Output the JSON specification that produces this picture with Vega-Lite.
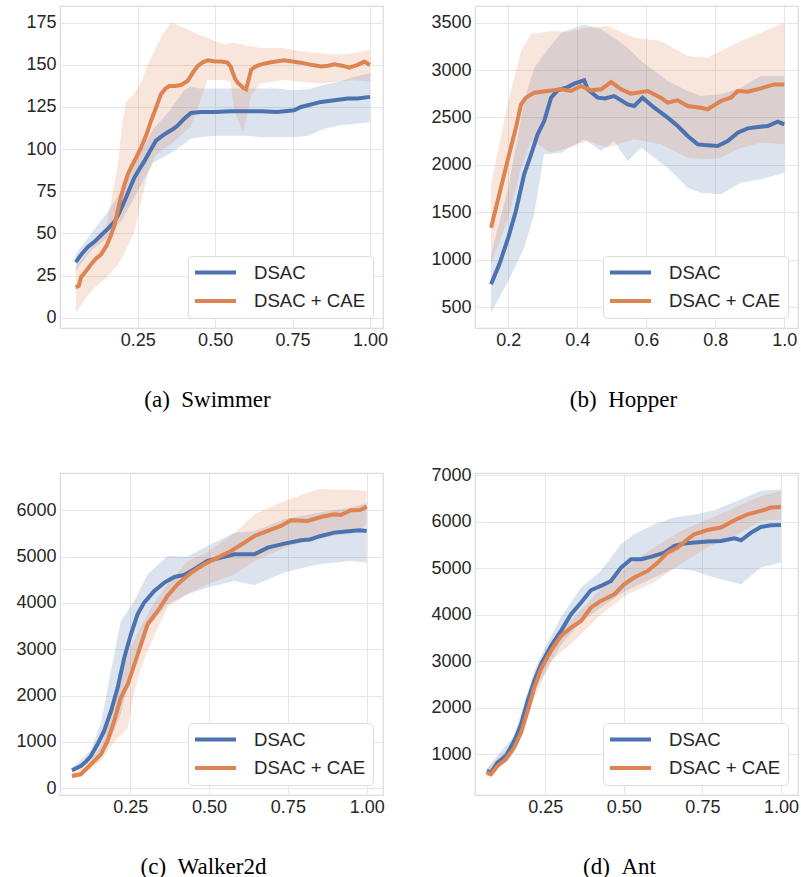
{
  "$schema": "https://vega.github.io/schema/vega-lite/v6.json",
  "padding": {"left": 15, "top": 5, "right": 2, "bottom": 2},
  "background": "white",
  "columns": 2,
  "bounds": "flush",
  "spacing": {"row": 145, "column": 92},
  "resolve": {"scale": {"color": "independent", "fill": "independent", "x": "independent", "y": "independent"}, "legend": {"color": "independent", "fill": "independent"}},
  "datasets": {
    "aL": [
      {"x":0.05,"s":"DSAC","y":33},{"x":0.07,"s":"DSAC","y":38},{"x":0.089,"s":"DSAC","y":42},{"x":0.11,"s":"DSAC","y":45},{"x":0.132,"s":"DSAC","y":49},{"x":0.155,"s":"DSAC","y":53},{"x":0.175,"s":"DSAC","y":57},{"x":0.19,"s":"DSAC","y":62},{"x":0.207,"s":"DSAC","y":69},{"x":0.225,"s":"DSAC","y":77},{"x":0.239,"s":"DSAC","y":83},{"x":0.255,"s":"DSAC","y":88},{"x":0.272,"s":"DSAC","y":93},{"x":0.29,"s":"DSAC","y":99},{"x":0.309,"s":"DSAC","y":105},{"x":0.33,"s":"DSAC","y":108},{"x":0.347,"s":"DSAC","y":110},{"x":0.365,"s":"DSAC","y":112},{"x":0.379,"s":"DSAC","y":114},{"x":0.4,"s":"DSAC","y":118},{"x":0.422,"s":"DSAC","y":121.5},{"x":0.454,"s":"DSAC","y":122},{"x":0.5,"s":"DSAC","y":122},{"x":0.55,"s":"DSAC","y":122.5},{"x":0.6,"s":"DSAC","y":122.5},{"x":0.65,"s":"DSAC","y":122.5},{"x":0.7,"s":"DSAC","y":122},{"x":0.755,"s":"DSAC","y":123},{"x":0.777,"s":"DSAC","y":125},{"x":0.8,"s":"DSAC","y":126},{"x":0.842,"s":"DSAC","y":128},{"x":0.885,"s":"DSAC","y":129},{"x":0.928,"s":"DSAC","y":130},{"x":0.96,"s":"DSAC","y":130},{"x":1.0,"s":"DSAC","y":131},
      {"x":0.05,"s":"DSAC + CAE","y":18},{"x":0.06,"s":"DSAC + CAE","y":19},{"x":0.067,"s":"DSAC + CAE","y":24},{"x":0.08,"s":"DSAC + CAE","y":27},{"x":0.099,"s":"DSAC + CAE","y":31.6},{"x":0.115,"s":"DSAC + CAE","y":35},{"x":0.132,"s":"DSAC + CAE","y":37.6},{"x":0.15,"s":"DSAC + CAE","y":43},{"x":0.164,"s":"DSAC + CAE","y":49},{"x":0.175,"s":"DSAC + CAE","y":55},{"x":0.185,"s":"DSAC + CAE","y":63},{"x":0.195,"s":"DSAC + CAE","y":71},{"x":0.207,"s":"DSAC + CAE","y":79},{"x":0.218,"s":"DSAC + CAE","y":85},{"x":0.228,"s":"DSAC + CAE","y":89},{"x":0.245,"s":"DSAC + CAE","y":95},{"x":0.261,"s":"DSAC + CAE","y":101},{"x":0.277,"s":"DSAC + CAE","y":108},{"x":0.293,"s":"DSAC + CAE","y":116.7},{"x":0.31,"s":"DSAC + CAE","y":125},{"x":0.325,"s":"DSAC + CAE","y":132.5},{"x":0.34,"s":"DSAC + CAE","y":136},{"x":0.352,"s":"DSAC + CAE","y":137.4},{"x":0.37,"s":"DSAC + CAE","y":137.5},{"x":0.39,"s":"DSAC + CAE","y":138},{"x":0.411,"s":"DSAC + CAE","y":140.4},{"x":0.43,"s":"DSAC + CAE","y":146},{"x":0.444,"s":"DSAC + CAE","y":149.3},{"x":0.46,"s":"DSAC + CAE","y":151.5},{"x":0.476,"s":"DSAC + CAE","y":152.7},{"x":0.5,"s":"DSAC + CAE","y":152},{"x":0.52,"s":"DSAC + CAE","y":152},{"x":0.54,"s":"DSAC + CAE","y":151.3},{"x":0.55,"s":"DSAC + CAE","y":149},{"x":0.557,"s":"DSAC + CAE","y":145.3},{"x":0.565,"s":"DSAC + CAE","y":141.5},{"x":0.573,"s":"DSAC + CAE","y":139.4},{"x":0.59,"s":"DSAC + CAE","y":136.5},{"x":0.6,"s":"DSAC + CAE","y":135.5},{"x":0.608,"s":"DSAC + CAE","y":141},{"x":0.616,"s":"DSAC + CAE","y":147},{"x":0.63,"s":"DSAC + CAE","y":149},{"x":0.648,"s":"DSAC + CAE","y":150.3},{"x":0.68,"s":"DSAC + CAE","y":151.5},{"x":0.723,"s":"DSAC + CAE","y":152.7},{"x":0.75,"s":"DSAC + CAE","y":152},{"x":0.777,"s":"DSAC + CAE","y":151.3},{"x":0.81,"s":"DSAC + CAE","y":150},{"x":0.842,"s":"DSAC + CAE","y":149},{"x":0.865,"s":"DSAC + CAE","y":149.5},{"x":0.885,"s":"DSAC + CAE","y":150.3},{"x":0.91,"s":"DSAC + CAE","y":149.5},{"x":0.933,"s":"DSAC + CAE","y":148.3},{"x":0.96,"s":"DSAC + CAE","y":150},{"x":0.982,"s":"DSAC + CAE","y":151.9},{"x":1.0,"s":"DSAC + CAE","y":149.9}
    ],
    "aB": [
      {"x":0.05,"s":"DSAC","lo":28,"hi":38},{"x":0.1,"s":"DSAC","lo":40,"hi":50},{"x":0.15,"s":"DSAC","lo":47,"hi":62},{"x":0.2,"s":"DSAC","lo":58,"hi":76},{"x":0.25,"s":"DSAC","lo":75,"hi":95},{"x":0.3,"s":"DSAC","lo":92,"hi":112},{"x":0.35,"s":"DSAC","lo":97,"hi":122},{"x":0.4,"s":"DSAC","lo":103,"hi":135},{"x":0.42,"s":"DSAC","lo":106,"hi":137},{"x":0.45,"s":"DSAC","lo":107,"hi":136},{"x":0.5,"s":"DSAC","lo":108,"hi":136},{"x":0.55,"s":"DSAC","lo":108,"hi":136},{"x":0.6,"s":"DSAC","lo":108,"hi":136},{"x":0.65,"s":"DSAC","lo":107,"hi":136},{"x":0.7,"s":"DSAC","lo":107,"hi":136},{"x":0.75,"s":"DSAC","lo":107,"hi":135},{"x":0.8,"s":"DSAC","lo":108,"hi":135.5},{"x":0.85,"s":"DSAC","lo":112,"hi":138},{"x":0.9,"s":"DSAC","lo":114,"hi":140},{"x":0.95,"s":"DSAC","lo":115,"hi":143},{"x":1.0,"s":"DSAC","lo":116,"hi":145},
      {"x":0.05,"s":"DSAC + CAE","lo":3,"hi":30},{"x":0.1,"s":"DSAC + CAE","lo":16,"hi":42},{"x":0.15,"s":"DSAC + CAE","lo":24,"hi":55},{"x":0.185,"s":"DSAC + CAE","lo":31,"hi":90},{"x":0.2,"s":"DSAC + CAE","lo":36,"hi":115},{"x":0.212,"s":"DSAC + CAE","lo":40,"hi":128},{"x":0.239,"s":"DSAC + CAE","lo":51,"hi":133},{"x":0.261,"s":"DSAC + CAE","lo":69,"hi":140},{"x":0.282,"s":"DSAC + CAE","lo":85,"hi":150},{"x":0.304,"s":"DSAC + CAE","lo":95,"hi":158},{"x":0.33,"s":"DSAC + CAE","lo":100,"hi":168},{"x":0.358,"s":"DSAC + CAE","lo":103,"hi":175},{"x":0.4,"s":"DSAC + CAE","lo":110,"hi":172},{"x":0.42,"s":"DSAC + CAE","lo":113,"hi":170},{"x":0.445,"s":"DSAC + CAE","lo":125,"hi":168},{"x":0.476,"s":"DSAC + CAE","lo":141,"hi":166},{"x":0.5,"s":"DSAC + CAE","lo":141,"hi":164},{"x":0.53,"s":"DSAC + CAE","lo":141,"hi":162},{"x":0.55,"s":"DSAC + CAE","lo":140,"hi":163},{"x":0.562,"s":"DSAC + CAE","lo":123,"hi":163},{"x":0.59,"s":"DSAC + CAE","lo":110,"hi":162},{"x":0.6,"s":"DSAC + CAE","lo":118,"hi":161},{"x":0.616,"s":"DSAC + CAE","lo":132,"hi":161},{"x":0.648,"s":"DSAC + CAE","lo":139,"hi":160},{"x":0.723,"s":"DSAC + CAE","lo":141,"hi":160},{"x":0.777,"s":"DSAC + CAE","lo":140,"hi":158},{"x":0.83,"s":"DSAC + CAE","lo":139,"hi":157},{"x":0.9,"s":"DSAC + CAE","lo":140,"hi":156},{"x":0.95,"s":"DSAC + CAE","lo":141,"hi":157},{"x":1.0,"s":"DSAC + CAE","lo":140,"hi":159}
    ],
    "bL": [
      {"x":0.15,"s":"DSAC","y":740},{"x":0.174,"s":"DSAC","y":950},{"x":0.2,"s":"DSAC","y":1232},{"x":0.222,"s":"DSAC","y":1513},{"x":0.246,"s":"DSAC","y":1900},{"x":0.266,"s":"DSAC","y":2111},{"x":0.285,"s":"DSAC","y":2322},{"x":0.304,"s":"DSAC","y":2462},{"x":0.324,"s":"DSAC","y":2709},{"x":0.343,"s":"DSAC","y":2786},{"x":0.372,"s":"DSAC","y":2821},{"x":0.391,"s":"DSAC","y":2856},{"x":0.42,"s":"DSAC","y":2892},{"x":0.43,"s":"DSAC","y":2797},{"x":0.459,"s":"DSAC","y":2709},{"x":0.48,"s":"DSAC","y":2700},{"x":0.507,"s":"DSAC","y":2726},{"x":0.546,"s":"DSAC","y":2638},{"x":0.565,"s":"DSAC","y":2621},{"x":0.589,"s":"DSAC","y":2709},{"x":0.623,"s":"DSAC","y":2603},{"x":0.662,"s":"DSAC","y":2498},{"x":0.691,"s":"DSAC","y":2410},{"x":0.72,"s":"DSAC","y":2304},{"x":0.749,"s":"DSAC","y":2216},{"x":0.768,"s":"DSAC","y":2209},{"x":0.807,"s":"DSAC","y":2199},{"x":0.836,"s":"DSAC","y":2251},{"x":0.865,"s":"DSAC","y":2339},{"x":0.894,"s":"DSAC","y":2385},{"x":0.923,"s":"DSAC","y":2399},{"x":0.952,"s":"DSAC","y":2410},{"x":0.981,"s":"DSAC","y":2455},{"x":1.0,"s":"DSAC","y":2427},
      {"x":0.15,"s":"DSAC + CAE","y":1337},{"x":0.174,"s":"DSAC + CAE","y":1689},{"x":0.2,"s":"DSAC + CAE","y":2076},{"x":0.222,"s":"DSAC + CAE","y":2392},{"x":0.237,"s":"DSAC + CAE","y":2638},{"x":0.251,"s":"DSAC + CAE","y":2709},{"x":0.275,"s":"DSAC + CAE","y":2761},{"x":0.314,"s":"DSAC + CAE","y":2779},{"x":0.353,"s":"DSAC + CAE","y":2797},{"x":0.382,"s":"DSAC + CAE","y":2779},{"x":0.41,"s":"DSAC + CAE","y":2832},{"x":0.44,"s":"DSAC + CAE","y":2786},{"x":0.469,"s":"DSAC + CAE","y":2797},{"x":0.498,"s":"DSAC + CAE","y":2874},{"x":0.527,"s":"DSAC + CAE","y":2797},{"x":0.555,"s":"DSAC + CAE","y":2751},{"x":0.604,"s":"DSAC + CAE","y":2779},{"x":0.642,"s":"DSAC + CAE","y":2709},{"x":0.662,"s":"DSAC + CAE","y":2656},{"x":0.691,"s":"DSAC + CAE","y":2681},{"x":0.72,"s":"DSAC + CAE","y":2621},{"x":0.758,"s":"DSAC + CAE","y":2603},{"x":0.778,"s":"DSAC + CAE","y":2586},{"x":0.816,"s":"DSAC + CAE","y":2674},{"x":0.845,"s":"DSAC + CAE","y":2709},{"x":0.865,"s":"DSAC + CAE","y":2779},{"x":0.894,"s":"DSAC + CAE","y":2772},{"x":0.932,"s":"DSAC + CAE","y":2807},{"x":0.971,"s":"DSAC + CAE","y":2849},{"x":1.0,"s":"DSAC + CAE","y":2849}
    ],
    "bB": [
      {"x":0.15,"s":"DSAC","lo":440,"hi":1050},{"x":0.2,"s":"DSAC","lo":774,"hi":1759},{"x":0.246,"s":"DSAC","lo":1126,"hi":2674},{"x":0.275,"s":"DSAC","lo":1478,"hi":3025},{"x":0.304,"s":"DSAC","lo":2111,"hi":3166},{"x":0.353,"s":"DSAC","lo":2128,"hi":3394},{"x":0.42,"s":"DSAC","lo":2269,"hi":3482},{"x":0.469,"s":"DSAC","lo":2146,"hi":3430},{"x":0.507,"s":"DSAC","lo":2251,"hi":3342},{"x":0.546,"s":"DSAC","lo":2040,"hi":3236},{"x":0.585,"s":"DSAC","lo":2181,"hi":3096},{"x":0.662,"s":"DSAC","lo":1970,"hi":2885},{"x":0.72,"s":"DSAC","lo":1759,"hi":2779},{"x":0.758,"s":"DSAC","lo":1706,"hi":2726},{"x":0.816,"s":"DSAC","lo":1689,"hi":2744},{"x":0.874,"s":"DSAC","lo":1812,"hi":2814},{"x":0.932,"s":"DSAC","lo":1847,"hi":2937},{"x":1.0,"s":"DSAC","lo":1917,"hi":2937},
      {"x":0.15,"s":"DSAC + CAE","lo":950,"hi":1794},{"x":0.2,"s":"DSAC + CAE","lo":1443,"hi":2674},{"x":0.237,"s":"DSAC + CAE","lo":1970,"hi":3201},{"x":0.266,"s":"DSAC + CAE","lo":2251,"hi":3377},{"x":0.324,"s":"DSAC + CAE","lo":2128,"hi":3412},{"x":0.372,"s":"DSAC + CAE","lo":2181,"hi":3405},{"x":0.43,"s":"DSAC + CAE","lo":2251,"hi":3447},{"x":0.488,"s":"DSAC + CAE","lo":2181,"hi":3465},{"x":0.565,"s":"DSAC + CAE","lo":2269,"hi":3342},{"x":0.642,"s":"DSAC + CAE","lo":2216,"hi":3306},{"x":0.72,"s":"DSAC + CAE","lo":2076,"hi":3148},{"x":0.778,"s":"DSAC + CAE","lo":2058,"hi":3131},{"x":0.816,"s":"DSAC + CAE","lo":2076,"hi":3201},{"x":0.874,"s":"DSAC + CAE","lo":2181,"hi":3306},{"x":0.932,"s":"DSAC + CAE","lo":2234,"hi":3394},{"x":1.0,"s":"DSAC + CAE","lo":2216,"hi":3500}
    ],
    "cL": [
      {"x":0.065,"s":"DSAC","y":388},{"x":0.093,"s":"DSAC","y":482},{"x":0.11,"s":"DSAC","y":580},{"x":0.125,"s":"DSAC","y":698},{"x":0.146,"s":"DSAC","y":950},{"x":0.167,"s":"DSAC","y":1237},{"x":0.189,"s":"DSAC","y":1669},{"x":0.21,"s":"DSAC","y":2173},{"x":0.231,"s":"DSAC","y":2820},{"x":0.252,"s":"DSAC","y":3324},{"x":0.273,"s":"DSAC","y":3755},{"x":0.294,"s":"DSAC","y":4007},{"x":0.326,"s":"DSAC","y":4259},{"x":0.358,"s":"DSAC","y":4439},{"x":0.39,"s":"DSAC","y":4561},{"x":0.421,"s":"DSAC","y":4604},{"x":0.453,"s":"DSAC","y":4727},{"x":0.495,"s":"DSAC","y":4906},{"x":0.538,"s":"DSAC","y":4978},{"x":0.58,"s":"DSAC","y":5050},{"x":0.612,"s":"DSAC","y":5050},{"x":0.644,"s":"DSAC","y":5050},{"x":0.686,"s":"DSAC","y":5194},{"x":0.739,"s":"DSAC","y":5280},{"x":0.792,"s":"DSAC","y":5352},{"x":0.82,"s":"DSAC","y":5370},{"x":0.855,"s":"DSAC","y":5446},{"x":0.897,"s":"DSAC","y":5518},{"x":0.95,"s":"DSAC","y":5554},{"x":0.98,"s":"DSAC","y":5570},{"x":1.0,"s":"DSAC","y":5554},
      {"x":0.065,"s":"DSAC + CAE","y":266},{"x":0.093,"s":"DSAC + CAE","y":302},{"x":0.125,"s":"DSAC + CAE","y":518},{"x":0.157,"s":"DSAC + CAE","y":734},{"x":0.178,"s":"DSAC + CAE","y":1022},{"x":0.199,"s":"DSAC + CAE","y":1453},{"x":0.22,"s":"DSAC + CAE","y":1957},{"x":0.242,"s":"DSAC + CAE","y":2245},{"x":0.263,"s":"DSAC + CAE","y":2676},{"x":0.284,"s":"DSAC + CAE","y":3108},{"x":0.305,"s":"DSAC + CAE","y":3539},{"x":0.337,"s":"DSAC + CAE","y":3827},{"x":0.368,"s":"DSAC + CAE","y":4151},{"x":0.4,"s":"DSAC + CAE","y":4403},{"x":0.443,"s":"DSAC + CAE","y":4655},{"x":0.485,"s":"DSAC + CAE","y":4834},{"x":0.527,"s":"DSAC + CAE","y":4978},{"x":0.57,"s":"DSAC + CAE","y":5122},{"x":0.612,"s":"DSAC + CAE","y":5302},{"x":0.644,"s":"DSAC + CAE","y":5446},{"x":0.686,"s":"DSAC + CAE","y":5554},{"x":0.728,"s":"DSAC + CAE","y":5662},{"x":0.76,"s":"DSAC + CAE","y":5784},{"x":0.813,"s":"DSAC + CAE","y":5770},{"x":0.855,"s":"DSAC + CAE","y":5856},{"x":0.897,"s":"DSAC + CAE","y":5914},{"x":0.918,"s":"DSAC + CAE","y":5899},{"x":0.95,"s":"DSAC + CAE","y":6000},{"x":0.98,"s":"DSAC + CAE","y":6007},{"x":1.0,"s":"DSAC + CAE","y":6079}
    ],
    "cB": [
      {"x":0.065,"s":"DSAC","lo":340,"hi":430},{"x":0.125,"s":"DSAC","lo":600,"hi":820},{"x":0.157,"s":"DSAC","lo":806,"hi":1417},{"x":0.189,"s":"DSAC","lo":1093,"hi":2532},{"x":0.22,"s":"DSAC","lo":1597,"hi":3611},{"x":0.263,"s":"DSAC","lo":2820,"hi":4043},{"x":0.305,"s":"DSAC","lo":3467,"hi":4619},{"x":0.368,"s":"DSAC","lo":3971,"hi":5014},{"x":0.432,"s":"DSAC","lo":4187,"hi":5000},{"x":0.495,"s":"DSAC","lo":4331,"hi":5230},{"x":0.58,"s":"DSAC","lo":4475,"hi":5518},{"x":0.644,"s":"DSAC","lo":4388,"hi":5550},{"x":0.739,"s":"DSAC","lo":4655,"hi":5806},{"x":0.845,"s":"DSAC","lo":4834,"hi":5949},{"x":0.95,"s":"DSAC","lo":4906,"hi":6057},{"x":1.0,"s":"DSAC","lo":4870,"hi":6150},
      {"x":0.065,"s":"DSAC + CAE","lo":200,"hi":330},{"x":0.125,"s":"DSAC + CAE","lo":420,"hi":620},{"x":0.157,"s":"DSAC + CAE","lo":600,"hi":900},{"x":0.199,"s":"DSAC + CAE","lo":1000,"hi":1899},{"x":0.242,"s":"DSAC + CAE","lo":1300,"hi":2892},{"x":0.263,"s":"DSAC + CAE","lo":2100,"hi":3200},{"x":0.284,"s":"DSAC + CAE","lo":2600,"hi":3503},{"x":0.326,"s":"DSAC + CAE","lo":3300,"hi":4000},{"x":0.368,"s":"DSAC + CAE","lo":3900,"hi":4400},{"x":0.432,"s":"DSAC + CAE","lo":4200,"hi":4900},{"x":0.495,"s":"DSAC + CAE","lo":4403,"hi":5100},{"x":0.58,"s":"DSAC + CAE","lo":4619,"hi":5500},{"x":0.644,"s":"DSAC + CAE","lo":4900,"hi":5914},{"x":0.739,"s":"DSAC + CAE","lo":5194,"hi":6201},{"x":0.845,"s":"DSAC + CAE","lo":5410,"hi":6453},{"x":0.95,"s":"DSAC + CAE","lo":5500,"hi":6450},{"x":1.0,"s":"DSAC + CAE","lo":5698,"hi":6417}
    ],
    "dL": [
      {"x":0.064,"s":"DSAC","y":642},{"x":0.077,"s":"DSAC","y":606},{"x":0.098,"s":"DSAC","y":821},{"x":0.125,"s":"DSAC","y":965},{"x":0.151,"s":"DSAC","y":1287},{"x":0.173,"s":"DSAC","y":1645},{"x":0.194,"s":"DSAC","y":2147},{"x":0.215,"s":"DSAC","y":2577},{"x":0.236,"s":"DSAC","y":2936},{"x":0.268,"s":"DSAC","y":3330},{"x":0.3,"s":"DSAC","y":3653},{"x":0.332,"s":"DSAC","y":4011},{"x":0.364,"s":"DSAC","y":4262},{"x":0.395,"s":"DSAC","y":4527},{"x":0.427,"s":"DSAC","y":4620},{"x":0.459,"s":"DSAC","y":4728},{"x":0.491,"s":"DSAC","y":5014},{"x":0.523,"s":"DSAC","y":5194},{"x":0.555,"s":"DSAC","y":5194},{"x":0.586,"s":"DSAC","y":5244},{"x":0.629,"s":"DSAC","y":5337},{"x":0.661,"s":"DSAC","y":5480},{"x":0.692,"s":"DSAC","y":5531},{"x":0.724,"s":"DSAC","y":5552},{"x":0.767,"s":"DSAC","y":5574},{"x":0.809,"s":"DSAC","y":5588},{"x":0.852,"s":"DSAC","y":5645},{"x":0.873,"s":"DSAC","y":5602},{"x":0.905,"s":"DSAC","y":5767},{"x":0.936,"s":"DSAC","y":5889},{"x":0.968,"s":"DSAC","y":5925},{"x":1.0,"s":"DSAC","y":5932},
      {"x":0.064,"s":"DSAC + CAE","y":606},{"x":0.077,"s":"DSAC + CAE","y":570},{"x":0.098,"s":"DSAC + CAE","y":750},{"x":0.125,"s":"DSAC + CAE","y":893},{"x":0.151,"s":"DSAC + CAE","y":1144},{"x":0.173,"s":"DSAC + CAE","y":1466},{"x":0.194,"s":"DSAC + CAE","y":1932},{"x":0.215,"s":"DSAC + CAE","y":2434},{"x":0.236,"s":"DSAC + CAE","y":2828},{"x":0.268,"s":"DSAC + CAE","y":3223},{"x":0.3,"s":"DSAC + CAE","y":3545},{"x":0.332,"s":"DSAC + CAE","y":3724},{"x":0.364,"s":"DSAC + CAE","y":3868},{"x":0.395,"s":"DSAC + CAE","y":4154},{"x":0.427,"s":"DSAC + CAE","y":4298},{"x":0.47,"s":"DSAC + CAE","y":4441},{"x":0.501,"s":"DSAC + CAE","y":4656},{"x":0.533,"s":"DSAC + CAE","y":4800},{"x":0.576,"s":"DSAC + CAE","y":4943},{"x":0.608,"s":"DSAC + CAE","y":5122},{"x":0.639,"s":"DSAC + CAE","y":5337},{"x":0.671,"s":"DSAC + CAE","y":5445},{"x":0.703,"s":"DSAC + CAE","y":5624},{"x":0.724,"s":"DSAC + CAE","y":5731},{"x":0.767,"s":"DSAC + CAE","y":5824},{"x":0.809,"s":"DSAC + CAE","y":5875},{"x":0.852,"s":"DSAC + CAE","y":6032},{"x":0.894,"s":"DSAC + CAE","y":6161},{"x":0.936,"s":"DSAC + CAE","y":6233},{"x":0.968,"s":"DSAC + CAE","y":6305},{"x":1.0,"s":"DSAC + CAE","y":6319}
    ],
    "dB": [
      {"x":0.064,"s":"DSAC","lo":560,"hi":700},{"x":0.151,"s":"DSAC","lo":1200,"hi":1400},{"x":0.215,"s":"DSAC","lo":2400,"hi":2800},{"x":0.249,"s":"DSAC","lo":2750,"hi":3294},{"x":0.3,"s":"DSAC","lo":3350,"hi":3950},{"x":0.364,"s":"DSAC","lo":3850,"hi":4584},{"x":0.427,"s":"DSAC","lo":4150,"hi":4943},{"x":0.491,"s":"DSAC","lo":4450,"hi":5516},{"x":0.533,"s":"DSAC","lo":4600,"hi":5731},{"x":0.597,"s":"DSAC","lo":4800,"hi":5946},{"x":0.661,"s":"DSAC","lo":5000,"hi":6090},{"x":0.724,"s":"DSAC","lo":4943,"hi":6150},{"x":0.788,"s":"DSAC","lo":4800,"hi":6250},{"x":0.873,"s":"DSAC","lo":4656,"hi":6484},{"x":0.936,"s":"DSAC","lo":5014,"hi":6663},{"x":1.0,"s":"DSAC","lo":5122,"hi":6699},
      {"x":0.064,"s":"DSAC + CAE","lo":500,"hi":680},{"x":0.151,"s":"DSAC + CAE","lo":1050,"hi":1250},{"x":0.215,"s":"DSAC + CAE","lo":2200,"hi":2600},{"x":0.268,"s":"DSAC + CAE","lo":3007,"hi":3400},{"x":0.342,"s":"DSAC + CAE","lo":3438,"hi":3950},{"x":0.427,"s":"DSAC + CAE","lo":4000,"hi":4550},{"x":0.512,"s":"DSAC + CAE","lo":4441,"hi":5050},{"x":0.597,"s":"DSAC + CAE","lo":4700,"hi":5450},{"x":0.682,"s":"DSAC + CAE","lo":5100,"hi":5800},{"x":0.767,"s":"DSAC + CAE","lo":5450,"hi":6050},{"x":0.852,"s":"DSAC + CAE","lo":5700,"hi":6300},{"x":0.936,"s":"DSAC + CAE","lo":6018,"hi":6550},{"x":1.0,"s":"DSAC + CAE","lo":6050,"hi":6663}
    ]
  },
  "concat": [
    {
      "width": 323, "height": 322,
      "layer": [
        {"data": {"name": "aB"}, "mark": {"type": "area", "opacity": 0.2},
         "encoding": {
           "x": {"field": "x", "type": "quantitative", "scale": {"domain": [-0.0009, 1.042], "nice": false, "zero": false}, "axis": {"values": [0.25, 0.5, 0.75, 1.0], "format": ".2f", "title": "(a)\u2002Swimmer", "titleX": 147}},
           "y": {"field": "lo", "type": "quantitative", "scale": {"domain": [-6.1, 184.9], "nice": false, "zero": false}, "axis": {"values": [0, 25, 50, 75, 100, 125, 150, 175], "format": "d", "title": null}},
           "y2": {"field": "hi"},
           "fill": {"field": "s", "type": "nominal", "scale": {"domain": ["DSAC + CAE", "DSAC"], "range": ["#dd8452", "#4c72b0"]}, "legend": null}}},
        {"data": {"name": "aL"}, "mark": {"type": "line", "strokeWidth": 4},
         "encoding": {
           "x": {"field": "x", "type": "quantitative"},
           "y": {"field": "y", "type": "quantitative"},
           "color": {"field": "s", "type": "nominal", "scale": {"domain": ["DSAC", "DSAC + CAE"], "range": ["#4c72b0", "#dd8452"]}, "legend": {"title": null}}}}
      ]
    },
    {
      "width": 323, "height": 322,
      "layer": [
        {"data": {"name": "bB"}, "mark": {"type": "area", "opacity": 0.2},
         "encoding": {
           "x": {"field": "x", "type": "quantitative", "scale": {"domain": [0.1035, 1.0397], "nice": false, "zero": false}, "axis": {"values": [0.2, 0.4, 0.6, 0.8, 1.0], "format": ".1f", "title": "(b)\u2002Hopper", "titleX": 148}},
           "y": {"field": "lo", "type": "quantitative", "scale": {"domain": [278.5, 3676], "nice": false, "zero": false}, "axis": {"values": [500, 1000, 1500, 2000, 2500, 3000, 3500], "format": "d", "title": null}},
           "y2": {"field": "hi"},
           "fill": {"field": "s", "type": "nominal", "scale": {"domain": ["DSAC + CAE", "DSAC"], "range": ["#dd8452", "#4c72b0"]}, "legend": null}}},
        {"data": {"name": "bL"}, "mark": {"type": "line", "strokeWidth": 4},
         "encoding": {
           "x": {"field": "x", "type": "quantitative"},
           "y": {"field": "y", "type": "quantitative"},
           "color": {"field": "s", "type": "nominal", "scale": {"domain": ["DSAC", "DSAC + CAE"], "range": ["#4c72b0", "#dd8452"]}, "legend": {"title": null}}}}
      ]
    },
    {
      "width": 323, "height": 322,
      "layer": [
        {"data": {"name": "cB"}, "mark": {"type": "area", "opacity": 0.2},
         "encoding": {
           "x": {"field": "x", "type": "quantitative", "scale": {"domain": [0.027, 1.0518], "nice": false, "zero": false}, "axis": {"values": [0.25, 0.5, 0.75, 1.0], "format": ".2f", "title": "(c)\u2002Walker2d", "titleX": 143}},
           "y": {"field": "lo", "type": "quantitative", "scale": {"domain": [-145, 6805], "nice": false, "zero": false}, "axis": {"values": [0, 1000, 2000, 3000, 4000, 5000, 6000], "format": "d", "title": null}},
           "y2": {"field": "hi"},
           "fill": {"field": "s", "type": "nominal", "scale": {"domain": ["DSAC + CAE", "DSAC"], "range": ["#dd8452", "#4c72b0"]}, "legend": null}}},
        {"data": {"name": "cL"}, "mark": {"type": "line", "strokeWidth": 4},
         "encoding": {
           "x": {"field": "x", "type": "quantitative"},
           "y": {"field": "y", "type": "quantitative"},
           "color": {"field": "s", "type": "nominal", "scale": {"domain": ["DSAC", "DSAC + CAE"], "range": ["#4c72b0", "#dd8452"]}, "legend": {"title": null}}}}
      ]
    },
    {
      "width": 323, "height": 322,
      "layer": [
        {"data": {"name": "dB"}, "mark": {"type": "area", "opacity": 0.2},
         "encoding": {
           "x": {"field": "x", "type": "quantitative", "scale": {"domain": [0.0263, 1.0543], "nice": false, "zero": false}, "axis": {"values": [0.25, 0.5, 0.75, 1.0], "format": ".2f", "title": "(d)\u2002Ant", "titleX": 144}},
           "y": {"field": "lo", "type": "quantitative", "scale": {"domain": [124, 7049], "nice": false, "zero": false}, "axis": {"values": [1000, 2000, 3000, 4000, 5000, 6000, 7000], "format": "d", "title": null}},
           "y2": {"field": "hi"},
           "fill": {"field": "s", "type": "nominal", "scale": {"domain": ["DSAC + CAE", "DSAC"], "range": ["#dd8452", "#4c72b0"]}, "legend": null}}},
        {"data": {"name": "dL"}, "mark": {"type": "line", "strokeWidth": 4},
         "encoding": {
           "x": {"field": "x", "type": "quantitative"},
           "y": {"field": "y", "type": "quantitative"},
           "color": {"field": "s", "type": "nominal", "scale": {"domain": ["DSAC", "DSAC + CAE"], "range": ["#4c72b0", "#dd8452"]}, "legend": {"title": null}}}}
      ]
    }
  ],
  "config": {
    "view": {"stroke": "#dcdcdc", "strokeWidth": 1.25},
    "axis": {"grid": true, "gridColor": "#e6e6e6", "gridWidth": 1, "ticks": false, "domain": false, "labelFont": "Liberation Sans", "labelFontSize": 18, "labelColor": "#262626", "titleFont": "Liberation Serif", "titleFontSize": 23, "titleFontWeight": "normal", "titleColor": "#000000"},
    "axisY": {"labelPadding": 4},
    "axisX": {"labelPadding": 3, "labelFlush": false, "labelOverlap": false, "titleBaseline": "alphabetic", "titleY": 78, "titleAlign": "center", "titleAnchor": null},
    "legend": {"orient": "bottom-right", "offset": 10, "padding": 7, "symbolType": "M-2.733,0H2.733", "symbolSize": 225, "symbolStrokeWidth": 4, "symbolOffset": 11, "symbolOpacity": 1, "labelOffset": 29, "rowPadding": 8.5, "labelFont": "Liberation Sans", "labelFontSize": 18.6, "labelColor": "#262626", "strokeColor": "#dcdcdc", "fillColor": "#ffffff", "cornerRadius": 4}
  }
}
